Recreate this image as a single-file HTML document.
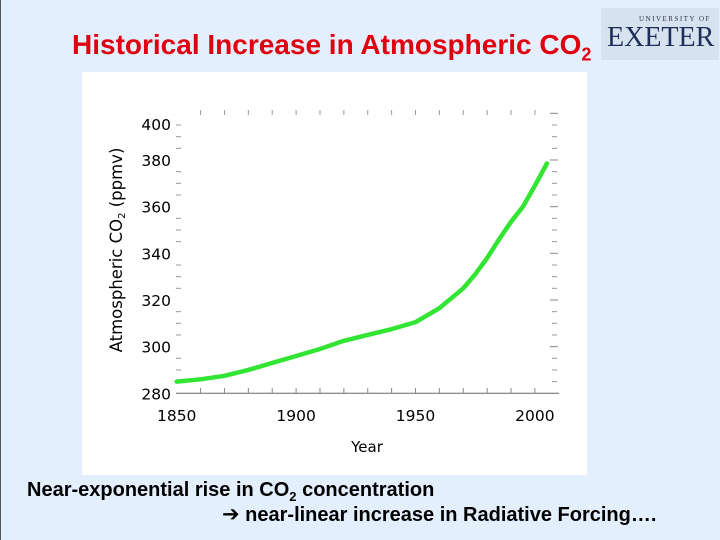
<!DOCTYPE html>
<html><head><meta charset="utf-8"><style>
body{margin:0;width:720px;height:540px;overflow:hidden;background:#e3effc;font-family:"Liberation Sans",sans-serif;position:relative}
.t{position:absolute;white-space:nowrap;transform-origin:0 0}
</style></head><body>
<div style="position:absolute;left:0;top:0;width:1px;height:540px;background:#555"></div>
<div class="t" style="left:72px;top:29px;font-size:28px;font-weight:bold;color:#e0000f">Historical Increase in Atmospheric CO<sub style="font-size:18px">2</sub></div>
<div style="position:absolute;left:601px;top:8px;width:118px;height:52px;background:#d6e2ee">
<div class="t" style="left:38px;top:7px;font-size:7px;letter-spacing:1.5px;color:#334;font-family:'Liberation Serif',serif">UNIVERSITY OF</div>
<div class="t" style="left:6px;top:14px;font-size:28px;color:#1f2e5a;font-family:'Liberation Serif',serif">EXETER</div>
</div>
<svg style="position:absolute;left:0;top:0" width="720" height="540">
<rect x="82" y="72" width="505" height="403" fill="#fff"/>
<g id="g" font-family="'DejaVu Sans',sans-serif" font-size="15.5" fill="#000"></g>
</svg>
<div class="t" style="left:27px;top:479px;font-size:20px;font-weight:bold">Near-exponential rise in CO<sub style="font-size:13px">2</sub> concentration</div>
<div class="t" style="left:222px;top:502px;font-size:20px;font-weight:bold"><span style="font-family:'DejaVu Sans',sans-serif;font-size:21px;font-weight:bold">➔</span> near-linear increase in Radiative Forcing….</div>
<script>
const years=[1850,1860,1870,1880,1890,1900,1910,1920,1930,1940,1950,1960,1970,1975,1980,1985,1990,1995,2000,2005];
const co2=[285,286,287.5,290,293,296,299,302.5,305,307.5,310.5,316.5,325,331,338,346,353.5,360,369,378.5];
const xTicks=[1850,1900,1950,2000];
const yTicks=[280,300,320,340,360,380,400];
const NS="http://www.w3.org/2000/svg";
const g=document.getElementById('g');
const X=y=>176.7+(y-1850)*2.388;
const Y=v=>393.3-(v-280)*2.333;
function el(t,a){const e=document.createElementNS(NS,t);for(const k in a)e.setAttribute(k,a[k]);g.appendChild(e);return e;}
const ax=el('line',{x1:176,y1:393.3,x2:559,y2:393.3,stroke:'#666','stroke-width':1});


for(let v=285;v<=395;v+=5){if(v%20===0)continue;
 const a=el('line',{x1:176,x2:181,y1:Y(v),y2:Y(v),stroke:'#999'});
 
 
 const b=el('line',{x1:552,x2:557,y1:Y(v),y2:Y(v),stroke:'#999'});
 
 }
yTicks.forEach(v=>{
 const t=el('text',{x:171,y:(v===400?Y(395.5):Y(v))+6,'text-anchor':'end'});t.textContent=v;
 
 
 if(v>280){const r=el('line',{x1:550,x2:558,y1:Y(v),y2:Y(v),stroke:'#888'});
 
 }
});
for(let yr=1860;yr<=2000;yr+=10){
 const a=el('line',{x1:X(yr),x2:X(yr),y1:393,y2:388,stroke:'#888'});
 
 
 const b=el('line',{x1:X(yr),x2:X(yr),y1:110,y2:115,stroke:'#999'});
 
 }
xTicks.forEach(v=>{const t=el('text',{x:X(v),y:421,'text-anchor':'middle'});t.textContent=v;
 
 });
const xt=el('text',{x:367,y:452,'text-anchor':'middle','font-size':15});xt.textContent='Year';


const yt=el('text',{x:0,y:0,'text-anchor':'middle','font-size':16.5,transform:'translate(122,250) rotate(-90)'});
yt.innerHTML='Atmospheric CO<tspan font-size="10" dy="3">2</tspan><tspan dy="-3"> (ppmv)</tspan>';


const ln=el('polyline',{points:years.map((y,i)=>X(y)+','+Y(co2[i])).join(' '),fill:'none',stroke:'#33e533','stroke-width':4.5,'stroke-linejoin':'round','stroke-linecap':'round'});


</script>
</body></html>
